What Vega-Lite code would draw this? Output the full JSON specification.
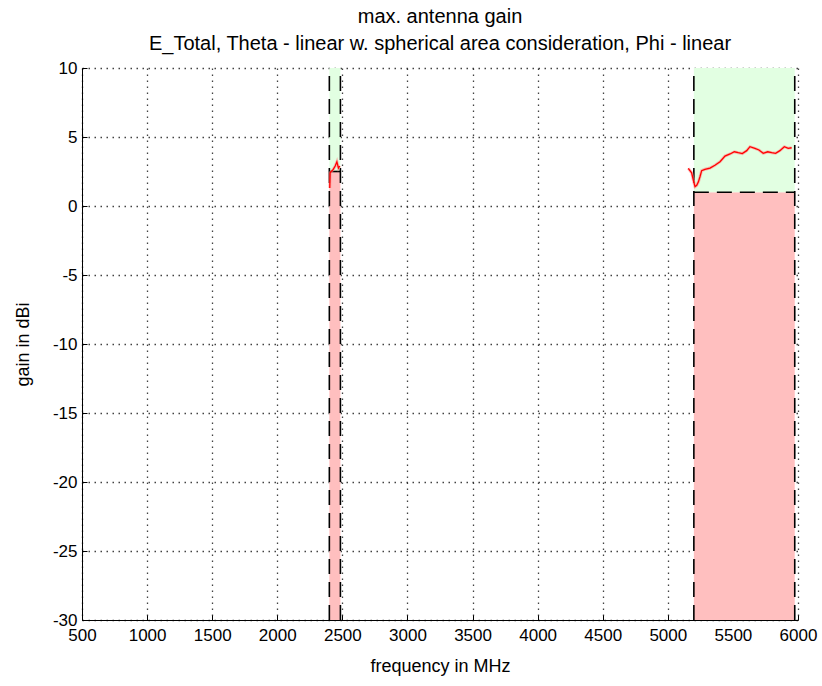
{
  "$schema": "https://vega.github.io/schema/vega-lite/v6.json",
  "width": 716,
  "height": 552,
  "autosize": {"type": "none"},
  "padding": {"left": 82, "top": 68, "right": 24, "bottom": 66},
  "background": "white",
  "title": {
    "text": ["max. antenna gain", "E_Total, Theta - linear w. spherical area consideration, Phi - linear"],
    "anchor": "middle",
    "font": "Liberation Sans",
    "fontSize": 20,
    "fontWeight": "normal",
    "lineHeight": 27,
    "offset": 5,
    "color": "black"
  },
  "datasets": {
    "zones": [
      {"x": 2400, "x2": 2485, "y": -30, "y2": 2.5, "zone": "below"},
      {"x": 2400, "x2": 2485, "y": 2.5, "y2": 10, "zone": "above"},
      {"x": 5200, "x2": 5975, "y": -30, "y2": 1, "zone": "below"},
      {"x": 5200, "x2": 5975, "y": 1, "y2": 10, "zone": "above"}
    ],
    "limits": [
      {"x": 2400, "x2": 2400, "y": -30, "y2": 10},
      {"x": 2485, "x2": 2485, "y": -30, "y2": 10},
      {"x": 2400, "x2": 2485, "y": 2.5, "y2": 2.5},
      {"x": 5200, "x2": 5200, "y": -30, "y2": 10},
      {"x": 5975, "x2": 5975, "y": -30, "y2": 10},
      {"x": 5200, "x2": 5975, "y": 1, "y2": 1}
    ],
    "gain": [
      {"band": "2.4 GHz", "f": 2403, "g": 1.3},
      {"band": "2.4 GHz", "f": 2406, "g": 2.4},
      {"band": "2.4 GHz", "f": 2415, "g": 2.5},
      {"band": "2.4 GHz", "f": 2430, "g": 2.65},
      {"band": "2.4 GHz", "f": 2445, "g": 2.9},
      {"band": "2.4 GHz", "f": 2458, "g": 3.2},
      {"band": "2.4 GHz", "f": 2470, "g": 2.75},
      {"band": "2.4 GHz", "f": 2480, "g": 2.9},
      {"band": "5 GHz", "f": 5157, "g": 2.73},
      {"band": "5 GHz", "f": 5183, "g": 2.41},
      {"band": "5 GHz", "f": 5196, "g": 1.88},
      {"band": "5 GHz", "f": 5209, "g": 1.4},
      {"band": "5 GHz", "f": 5222, "g": 1.5},
      {"band": "5 GHz", "f": 5235, "g": 1.75},
      {"band": "5 GHz", "f": 5247, "g": 2.12},
      {"band": "5 GHz", "f": 5260, "g": 2.56},
      {"band": "5 GHz", "f": 5285, "g": 2.66},
      {"band": "5 GHz", "f": 5324, "g": 2.75},
      {"band": "5 GHz", "f": 5362, "g": 2.95},
      {"band": "5 GHz", "f": 5401, "g": 3.21},
      {"band": "5 GHz", "f": 5439, "g": 3.62},
      {"band": "5 GHz", "f": 5478, "g": 3.77},
      {"band": "5 GHz", "f": 5511, "g": 3.93},
      {"band": "5 GHz", "f": 5541, "g": 3.86},
      {"band": "5 GHz", "f": 5572, "g": 3.8},
      {"band": "5 GHz", "f": 5606, "g": 4.01},
      {"band": "5 GHz", "f": 5631, "g": 4.3},
      {"band": "5 GHz", "f": 5669, "g": 4.18},
      {"band": "5 GHz", "f": 5700, "g": 4.06},
      {"band": "5 GHz", "f": 5733, "g": 3.82},
      {"band": "5 GHz", "f": 5767, "g": 3.93},
      {"band": "5 GHz", "f": 5798, "g": 3.86},
      {"band": "5 GHz", "f": 5828, "g": 3.82},
      {"band": "5 GHz", "f": 5861, "g": 4.01},
      {"band": "5 GHz", "f": 5895, "g": 4.3},
      {"band": "5 GHz", "f": 5925, "g": 4.18},
      {"band": "5 GHz", "f": 5951, "g": 4.22}
    ]
  },
  "layer": [
    {
      "data": {"name": "zones"},
      "mark": {"type": "rect"},
      "encoding": {
        "x": {"field": "x", "type": "quantitative", "scale": {"domain": [500, 6000], "nice": false, "zero": false}},
        "x2": {"field": "x2"},
        "y": {"field": "y", "type": "quantitative", "scale": {"domain": [-30, 10], "nice": false, "zero": false}},
        "y2": {"field": "y2"},
        "color": {"field": "zone", "type": "nominal", "scale": {"domain": ["below", "above"], "range": ["#ffbfbf", "#e2ffe2"]}, "legend": null}
      }
    },
    {
      "data": {"name": "limits"},
      "mark": {"type": "rule", "color": "black", "strokeWidth": 1.6, "strokeDash": [15, 8]},
      "encoding": {
        "x": {"field": "x", "type": "quantitative"},
        "x2": {"field": "x2"},
        "y": {"field": "y", "type": "quantitative"},
        "y2": {"field": "y2"}
      }
    },
    {
      "data": {"name": "gain"},
      "mark": {"type": "line", "color": "#ff9090", "strokeWidth": 3, "opacity": 0.6},
      "encoding": {
        "x": {"field": "f", "type": "quantitative"},
        "y": {"field": "g", "type": "quantitative"},
        "detail": {"field": "band"}
      }
    },
    {
      "data": {"name": "gain"},
      "mark": {"type": "line", "color": "#ff0000", "strokeWidth": 1.3},
      "encoding": {
        "x": {
          "field": "f", "type": "quantitative",
          "axis": {"title": "frequency in MHz", "values": [500, 1000, 1500, 2000, 2500, 3000, 3500, 4000, 4500, 5000, 5500, 6000], "titlePadding": 14, "labelPadding": 12}
        },
        "y": {
          "field": "g", "type": "quantitative",
          "axis": {"title": "gain in dBi", "values": [-30, -25, -20, -15, -10, -5, 0, 5, 10], "titlePadding": 20}
        },
        "detail": {"field": "band"}
      }
    }
  ],
  "config": {
    "view": {"stroke": null},
    "axis": {
      "zindex": 1,
      "grid": true,
      "gridColor": "#222222",
      "gridDash": [1.5, 4.5],
      "gridOpacity": 0.85,
      "gridWidth": 1.3,
      "domainColor": "#000000",
      "domainWidth": 1,
      "tickColor": "#000000",
      "tickSize": -5,
      "labelPadding": 10,
      "labelExpr": "'' + datum.value",
      "labelFont": "Liberation Sans",
      "labelFontSize": 17,
      "labelColor": "black",
      "titleFont": "Liberation Sans",
      "titleFontSize": 18,
      "titleFontWeight": "normal",
      "titleColor": "black",
      "labelFlush": false,
      "labelOverlap": false
    }
  }
}
